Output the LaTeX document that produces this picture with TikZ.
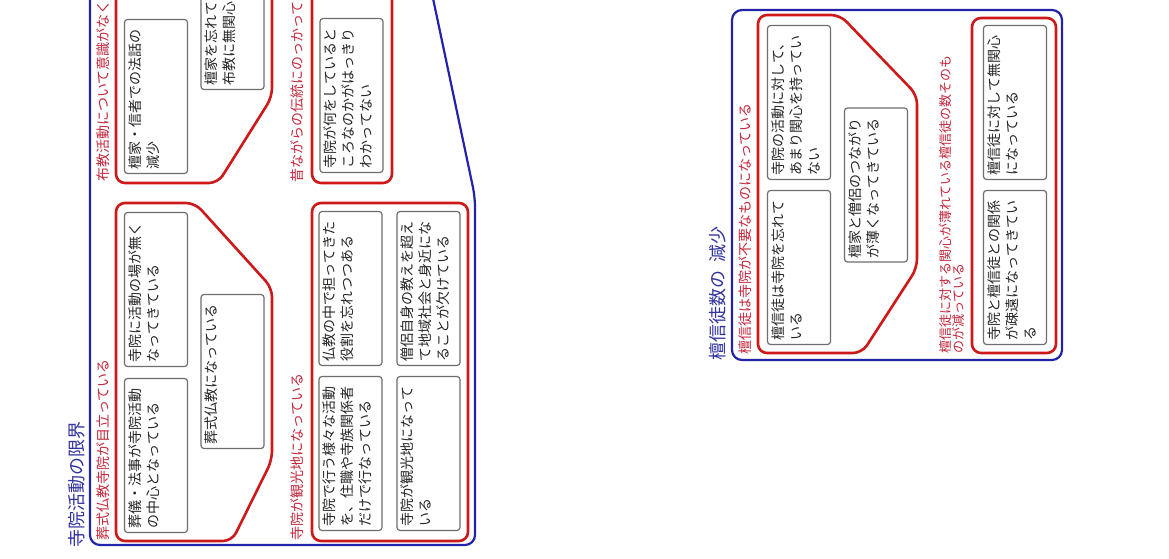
\documentclass[tikz,border=0pt]{standalone}
\usepackage{fontspec}
\newfontfamily\jp{Noto Sans CJK JP}
\XeTeXlinebreaklocale "ja"
\definecolor{grpblue}{RGB}{35,35,170}
\definecolor{grpred}{RGB}{205,25,25}
\definecolor{lblred}{RGB}{195,40,60}
\definecolor{ttlblue}{RGB}{50,50,160}
\definecolor{cardgray}{RGB}{110,110,110}
\newcommand{\cardtxt}[1]{\parbox[c][55pt][t]{146pt}{\raggedright #1}}
\tikzset{
 card/.style={draw=cardgray, line width=1.2pt, rounded corners=3pt, fill=white, rotate=90,
   inner xsep=4pt, inner ysep=4pt, font=\jp\fontsize{14}{18}\selectfont, text=black!85},
 grplabel/.style={rotate=90, anchor=west, inner sep=0pt, text=lblred, font=\jp\fontsize{14}{16}\selectfont},
 grptitle/.style={rotate=90, anchor=west, inner sep=0pt, text=ttlblue, font=\jp\fontsize{18}{20}\selectfont},
 outerline/.style={draw=grpblue, line width=2.2pt, rounded corners=10pt},
 innerline/.style={draw=grpred, line width=2.6pt, rounded corners=9pt},
}
\begin{document}
\begin{tikzpicture}[x=1pt,y=-1pt]
\useasboundingbox (0,0) rectangle (1169,559);
\clip (0,0) rectangle (1169,559);
\fill[white] (0,0) rectangle (1169,559);

% ---------- left big group ----------
\draw[outerline] (90,-30) -- (90,545) -- (475,545) -- (475,197) -- (427,-30);
\node[grptitle] (t1) at (77,548) {寺院活動の限界};

% group A
\draw[innerline] (116,203) -- (195,203) -- (272,288) -- (272,460) -- (232,541) -- (116,541) -- cycle;
\node[grplabel] (la) at (103,541) {葬式仏教寺院が目立っている};
\node[card] (a1) at (156,455.5) {\cardtxt{葬儀・法事が寺院活動\\の中心となっている}};
\node[card] (a2) at (156,289.5) {\cardtxt{寺院に活動の場が無く\\なってきている}};
\node[card] (a3) at (232.5,371.5) {\cardtxt{葬式仏教になっている}};

% group B
\draw[innerline] (116,-30) -- (116,183) -- (218,183) -- (272,97) -- (272,-30);
\node[grplabel] (lb) at (103,182) {布教活動について意識がなくなっている};
\node[card] (b0) at (156,-70.5) {\cardtxt{}};
\node[card] (b1) at (156,96.5) {\cardtxt{檀家・信者での法話の\\減少}};
\node[card] (b2) at (232.5,12.5) {\cardtxt{檀家を忘れてしまって\\布教に無関心である}};

% group C
\draw[innerline] (312,-30) rectangle (392,183);
\node[grplabel] (lc) at (297,183) {昔ながらの伝統にのっかっている};
\node[card] (c0) at (351.5,-70.5) {\cardtxt{}};
\node[card] (c1) at (351.5,95.5) {\cardtxt{寺院が何をしていると\\ころなのかがはっきり\\わかってない}};

% group D
\draw[innerline] (312,203) rectangle (468,541);
\node[grplabel] (ld) at (297,541) {寺院が観光地になっている};
\node[card] (d1) at (350.5,453.5) {\cardtxt{寺院で行う様々な活動\\を、住職や寺族関係者\\だけで行なっている}};
\node[card] (d2) at (428.5,453.5) {\cardtxt{寺院が観光地になって\\いる}};
\node[card] (d3) at (350.5,288.5) {\cardtxt{仏教の中で担ってきた\\役割を忘れつつある}};
\node[card] (d4) at (428.5,288.5) {\cardtxt{僧侶自身の教えを超え\\て地域社会と身近にな\\ることが欠けている}};

% ---------- right big group ----------
\draw[outerline] (732,10) rectangle (1062,360);
\node[grptitle] (t2) at (718,361) {檀信徒数の\hspace{8pt}減少};

% group E
\draw[innerline] (758,15) -- (840,15) -- (917,95) -- (917,268) -- (862,353) -- (758,353) -- cycle;
\node[grplabel] (le) at (745,355) {檀信徒は寺院が不要なものになっている};
\node[card] (e1) at (799,102.5) {\cardtxt{寺院の活動に対して、\\あまり関心を持ってい\\ない}};
\node[card] (e2) at (799,267.5) {\cardtxt{檀信徒は寺院を忘れて\\いる}};
\node[card] (e3) at (876,185) {\cardtxt{檀家と僧侶のつながり\\が薄くなってきている}};

% group F
\draw[innerline] (972,18) rectangle (1056,353);
\node[grplabel, anchor=north west, align=left, font=\jp\fontsize{13}{13.5}\selectfont] (lf) at (939,354)
  {檀信徒に対する関心が薄れている檀信徒の数そのも\\のが減っている};
\node[card] (f1) at (1015,102.5) {\cardtxt{檀信徒に対して無関心\\になっている}};
\node[card] (f2) at (1015,267.5) {\cardtxt{寺院と檀信徒との関係\\が疎遠になってきてい\\る}};
\end{tikzpicture}
\end{document}
